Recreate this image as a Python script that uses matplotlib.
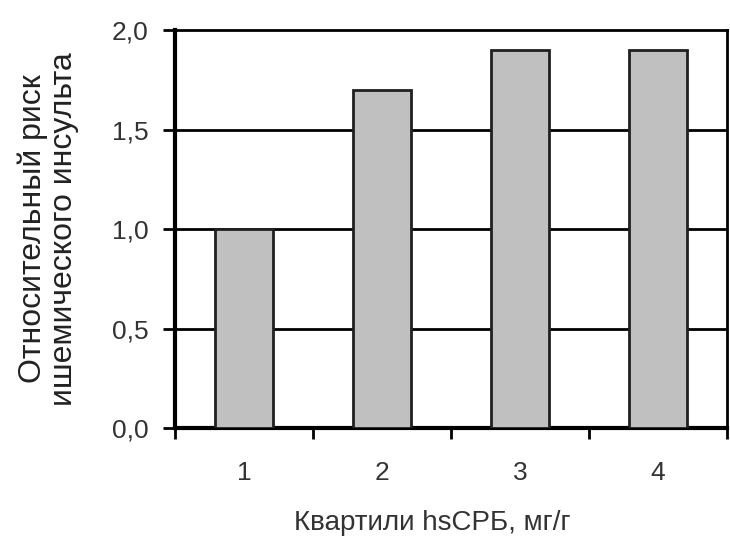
import numpy as np
import matplotlib.pyplot as plt

plt.rcParams['font.family'] = ['Liberation Sans', 'DejaVu Sans']

# quartiles of hsCRP and relative risk of ischemic stroke
quartiles = ['1', '2', '3', '4']
risk = [1.0, 1.7, 1.9, 1.9]
yticks = [0.0, 0.5, 1.0, 1.5, 2.0]

fig = plt.figure(figsize=(7.3, 5.36), dpi=100)
ax = fig.add_axes([0.240, 0.2015, 0.756, 0.7425])

x = np.arange(len(quartiles))
ax.bar(x, risk, width=0.42, color='#c0c0c0', edgecolor='#202020', linewidth=2, zorder=3)

for v in yticks[1:-1]:
    ax.axhline(v, color='black', lw=2, zorder=1)

ax.set_xlim(-0.5, len(quartiles) - 0.5)
ax.set_ylim(0, 2.0)
ax.set_yticks(yticks)
ax.set_yticklabels([('%.1f' % v).replace('.', ',') for v in yticks], fontsize=19, color='#333333')
ax.set_xticks(x)
ax.set_xticklabels(quartiles, fontsize=19, color='#333333')
ax.set_xticks(np.arange(len(quartiles) + 1) - 0.5, minor=True)
ax.tick_params(axis='x', which='major', length=0, pad=24)
ax.tick_params(axis='x', which='minor', length=8, width=2, direction='out')
ax.tick_params(axis='y', length=9, width=2, direction='out', pad=10)

for s in ['left', 'bottom']:
    ax.spines[s].set_linewidth(3)
for s in ['top', 'right']:
    ax.spines[s].set_linewidth(2)

ax.set_xlabel('Квартили hsСРБ, мг/г', fontsize=20, color='#333333', labelpad=20)
ax.xaxis.set_label_coords(0.466, -0.205)
ax.set_ylabel('Относительный риск\nишемического инсульта', fontsize=23, color='#222222',
              labelpad=24, linespacing=1.05)

fig.savefig('out.png', dpi=100)
